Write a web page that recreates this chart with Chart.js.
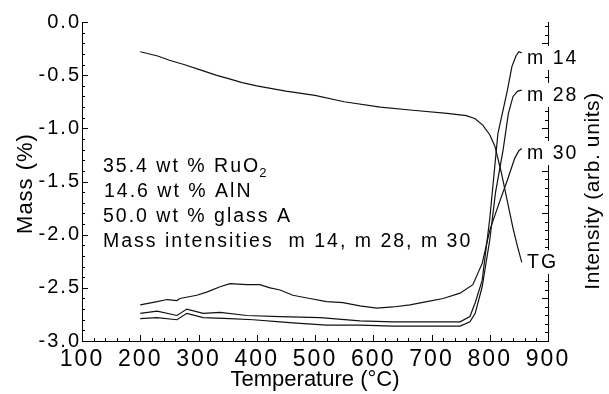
<!DOCTYPE html>
<html>
<head>
<meta charset="utf-8">
<script src="https://cdn.jsdelivr.net/npm/chart.js@4.4.0/dist/chart.umd.min.js"></script>
<style>
  html, body { margin: 0; padding: 0; background: #fff; }
  canvas { display: block; }
</style>
</head>
<body>
<canvas id="tgChart" width="609" height="394"></canvas>
<script>
// TG curve, mass loss in %
const tgTemp = [200, 230, 250, 275, 303, 330, 350, 375, 400, 450, 500, 550, 612, 668, 727, 760, 775, 788, 800, 809, 820, 830, 840, 848, 855];
const tgMass = [-0.28, -0.32, -0.36, -0.40, -0.45, -0.50, -0.53, -0.57, -0.60, -0.65, -0.69, -0.75, -0.80, -0.83, -0.86, -0.88, -0.91, -0.97, -1.06, -1.17, -1.42, -1.68, -1.94, -2.12, -2.26];

// mass spec intensities (arb. units, drawn against the right axis)
const m14Temp = [200, 229, 263, 280, 308, 337, 383, 440, 509, 577, 634, 692, 749, 766, 775, 787, 800, 814, 822, 830, 838, 845, 850, 855];
const m14Int = [-2.74, -2.72, -2.76, -2.70, -2.74, -2.73, -2.76, -2.77, -2.78, -2.81, -2.82, -2.82, -2.82, -2.77, -2.64, -2.43, -1.85, -1.05, -0.85, -0.65, -0.42, -0.32, -0.28, -0.29];

const m28Temp = [200, 229, 263, 280, 308, 354, 394, 440, 462, 520, 577, 634, 692, 749, 766, 775, 787, 800, 810, 823, 832, 840, 848, 855];
const m28Int = [-2.79, -2.78, -2.80, -2.74, -2.78, -2.79, -2.80, -2.82, -2.83, -2.85, -2.85, -2.86, -2.86, -2.86, -2.82, -2.74, -2.49, -2.05, -1.60, -1.20, -0.86, -0.70, -0.65, -0.64];

const m30Temp = [200, 229, 246, 263, 268, 297, 314, 337, 354, 383, 405, 423, 440, 462, 491, 520, 548, 577, 606, 634, 663, 692, 720, 749, 771, 787, 800, 815, 830, 843, 850, 855];
const m30Int = [-2.66, -2.63, -2.61, -2.62, -2.60, -2.57, -2.54, -2.49, -2.46, -2.47, -2.47, -2.50, -2.52, -2.57, -2.60, -2.63, -2.64, -2.67, -2.69, -2.68, -2.66, -2.63, -2.60, -2.55, -2.47, -2.27, -1.96, -1.72, -1.49, -1.28, -1.21, -1.19];

const xTicks = [100, 200, 300, 400, 500, 600, 700, 800, 900];
const infoLines = ['35.4 wt % RuO', '14.6 wt % AlN', '50.0 wt % glass A', 'Mass intensities  m 14, m 28, m 30'];
const curveLabels = ['m 14', 'm 28', 'm 30', 'TG'];

const FONT = '"Liberation Sans", Arial, sans-serif';

const toPoints = (xs, ys) => xs.map((t, i) => ({ x: t, y: ys[i] }));

const lineStyle = {
  borderColor: '#111',
  borderWidth: 1.2,
  pointRadius: 0,
  tension: 0,
  fill: false
};

// extra drawing: inward ticks, titles, text block, curve labels
const decorPlugin = {
  id: 'decor',
  beforeDraw(chart) {
    chart.ctx.letterSpacing = '2px';
  },
  afterDraw(chart) {
    const { ctx, chartArea: a, scales: { x, y, y2 } } = chart;
    ctx.save();
    ctx.letterSpacing = '0px';
    ctx.strokeStyle = '#000';
    ctx.lineWidth = 1;
    ctx.beginPath();
    for (let i = 0; i <= 30; i++) {
      const py = Math.round(y.getPixelForValue(-3 + i * 0.1)) + 0.5;
      const len = i % 5 === 0 ? 6 : 3;
      ctx.moveTo(a.left, py);
      ctx.lineTo(a.left + len, py);
    }
    for (let t = 100; t <= 900; t += 20) {
      const px = Math.round(x.getPixelForValue(t)) + 0.5;
      const len = t % 100 === 0 ? 6 : 3;
      ctx.moveTo(px, a.bottom);
      ctx.lineTo(px, a.bottom - len);
    }
    for (let i = 0; i <= 37; i++) {
      const py = Math.round(y2.getPixelForValue(-3 + i * 0.08)) + 0.5;
      const len = i % 5 === 0 ? 6 : 3;
      ctx.moveTo(a.right, py);
      ctx.lineTo(a.right - len, py);
    }
    ctx.stroke();

    ctx.fillStyle = '#000';

    // axis titles
    ctx.font = '22px ' + FONT;
    ctx.textAlign = 'center';
    ctx.textBaseline = 'alphabetic';
    ctx.letterSpacing = '0px';
    ctx.fillText('Temperature (°C)', (a.left + a.right) / 2, 386);

    ctx.save();
    ctx.translate(32, (a.top + a.bottom) / 2 + 2);
    ctx.rotate(-Math.PI / 2);
    ctx.letterSpacing = '1px';
    ctx.font = '22px ' + FONT;
    ctx.fillText('Mass (%)', 0, 0);
    ctx.restore();

    ctx.save();
    ctx.translate(599, 191);
    ctx.rotate(-Math.PI / 2);
    ctx.letterSpacing = '0.6px';
    ctx.font = '21px ' + FONT;
    ctx.fillText('Intensity (arb. units)', 0, 0);
    ctx.restore();

    // composition text block
    ctx.textAlign = 'left';
    ctx.letterSpacing = '2px';
    ctx.font = '19.5px ' + FONT;
    const baselines = [172, 197, 222, 247];
    infoLines.forEach((txt, i) => {
      const lx = i === 1 ? 104 : 103;
      ctx.fillText(txt, lx, baselines[i]);
      if (i === 0) {
        const w = ctx.measureText(txt).width;
        ctx.save();
        ctx.font = '13px ' + FONT;
        ctx.fillText('2', lx + w - 1, baselines[i] + 5);
        ctx.restore();
      }
    });

    // curve labels, sitting over the right axis
    const labelY = [58, 95, 153, 262];
    ctx.font = '19.5px ' + FONT;
    ctx.textBaseline = 'middle';
    curveLabels.forEach((txt, i) => {
      const w = ctx.measureText(txt).width;
      ctx.fillStyle = '#fff';
      ctx.fillRect(526, labelY[i] - 12, w, 24);
      ctx.fillStyle = '#000';
      ctx.fillText(txt, 527, labelY[i] + 1);
    });
    ctx.restore();
  }
};

const ctx = document.getElementById('tgChart').getContext('2d');
new Chart(ctx, {
  type: 'line',
  data: {
    datasets: [
      { label: 'TG', data: toPoints(tgTemp, tgMass), yAxisID: 'y', ...lineStyle },
      { label: 'm 14', data: toPoints(m14Temp, m14Int), yAxisID: 'y2', ...lineStyle },
      { label: 'm 28', data: toPoints(m28Temp, m28Int), yAxisID: 'y2', ...lineStyle },
      { label: 'm 30', data: toPoints(m30Temp, m30Int), yAxisID: 'y2', ...lineStyle }
    ]
  },
  options: {
    responsive: false,
    animation: false,
    devicePixelRatio: 1,
    layout: { padding: { top: 22, left: 0, right: 0, bottom: 0 } },
    plugins: {
      legend: { display: false },
      tooltip: { enabled: false }
    },
    scales: {
      x: {
        type: 'linear',
        min: 100,
        max: 900,
        afterBuildTicks: (scale) => { scale.ticks = xTicks.map(v => ({ value: v })); },
        afterFit: (scale) => { scale.height = 53; },
        ticks: {
          autoSkip: false,
          maxRotation: 0,
          padding: 5,
          color: '#000',
          font: { family: FONT, size: 23 }
        },
        grid: { display: false, drawTicks: false },
        border: { display: true, color: '#000', width: 1 }
      },
      y: {
        position: 'left',
        min: -3,
        max: 0,
        afterFit: (scale) => { scale.width = 82; },
        ticks: {
          stepSize: 0.5,
          padding: 1,
          color: '#000',
          font: { family: FONT, size: 20 },
          callback: (v) => Number(v).toFixed(1)
        },
        grid: { display: false, drawTicks: false },
        border: { display: true, color: '#000', width: 1 }
      },
      y2: {
        position: 'right',
        min: -3,
        max: 0,
        afterFit: (scale) => { scale.width = 61; },
        ticks: { display: false },
        grid: { display: false, drawTicks: false },
        border: { display: true, color: '#000', width: 1 }
      }
    }
  },
  plugins: [decorPlugin]
});
</script>
</body>
</html>
